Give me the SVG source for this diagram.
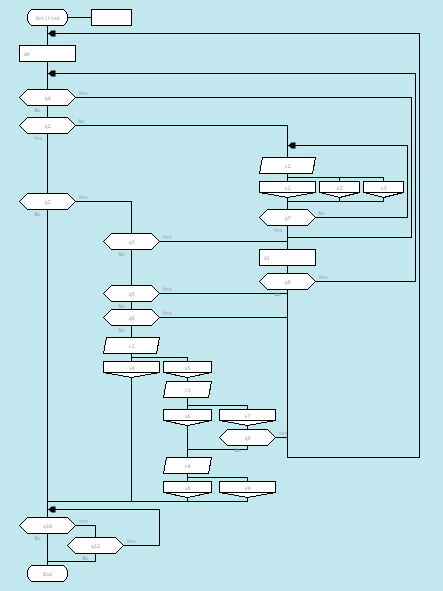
<svg xmlns="http://www.w3.org/2000/svg" xmlns:xlink="http://www.w3.org/1999/xlink" width="443" height="591" viewBox="0 0 443 591">
<style>
.n{fill:#fff;stroke:#000;stroke-width:1;shape-rendering:crispEdges}
.c{fill:none;stroke:#000;stroke-width:1;shape-rendering:crispEdges}
.t{font-family:"DejaVu Sans Mono","Liberation Mono",monospace;font-size:5px;fill:#9a9a9a;text-anchor:middle}
.s{font-family:"DejaVu Sans Mono","Liberation Mono",monospace;font-size:5px;fill:#8a9aa0}
.l{text-anchor:start}
</style>
<defs>
<path id="arr" d="M0,0 L3,-3 L7,-3 L7,3 L3,3 Z" fill="#000"/>
</defs>
<rect width="443" height="591" fill="#c2e7ef"/>
<g transform="translate(0.5,0.5)">
<g id="connectors">
<path class="c" d="M67,17 H91 M47,25 V45 M47,61 V89 M75,97 H411 V237 H287 M47,105 V117 M75,125 H287 V157 M47,133 V193 M75,201 H131 V233 M47,209 V517"/>
<path class="c" d="M287,173 V181 M287,177 H383 V181 M339,177 V181 M287,197 V209 M339,197 V201 M383,197 V201 M287,201 H383 M315,217 H407 V145 H287 M287,225 V249 M159,241 H287 M287,265 V273 M315,281 H415 V73 H47 M287,289 V457 H419 V33 H47"/>
<path class="c" d="M131,249 V285 M159,293 H287 M131,301 V309 M159,317 H287 M131,325 V337 M131,353 V361 M131,357 H187 V361 M131,377 V501 M187,377 V381 M187,397 V409 M187,405 H247 V409 M247,425 V429 M275,437 H287 M247,445 V449 H187 M187,425 V457 M187,473 V481 M187,477 H247 V481 M187,497 V501 M247,497 V501 M47,501 H247"/>
<path class="c" d="M47,509 H159 V545 H123 M75,525 H95 V537 M95,553 V561 H47 M47,533 V565"/>
<use xlink:href="#arr" href="#arr" x="48" y="33"/>
<use xlink:href="#arr" href="#arr" x="48" y="73"/>
<use xlink:href="#arr" href="#arr" x="288" y="145"/>
<use xlink:href="#arr" href="#arr" x="48" y="509"/>
</g>
<g id="start"><rect class="n" x="27" y="9" width="40" height="16" rx="6" ry="7"/><text class="t" x="47" y="19">Untitled</text></g>
<g id="blank"><rect class="n" x="91" y="9" width="40" height="16"/></g>
<g id="d0"><rect class="n" x="19" y="45" width="56" height="16"/><text class="t l" x="23" y="55">d0</text></g>
<g id="q4"><polygon class="n" points="19,97 27,89 67,89 75,97 67,105 27,105"/><text class="t" x="47" y="99">q4</text><text class="s" x="78" y="94">Yes</text><text class="s" x="34" y="111">No</text></g>
<g id="q1"><polygon class="n" points="19,125 27,117 67,117 75,125 67,133 27,133"/><text class="t" x="47" y="127">q1</text><text class="s" x="78" y="122">No</text><text class="s" x="33" y="139">Yes</text></g>
<g id="q2"><polygon class="n" points="19,201 27,193 67,193 75,201 67,209 27,209"/><text class="t" x="47" y="203">q2</text><text class="s" x="78" y="198">Yes</text><text class="s" x="34" y="215">No</text></g>
<g id="c1"><polygon class="n" points="262,157 315,157 312,173 259,173"/><text class="t" x="287" y="167">c1</text></g>
<g id="v1"><path class="n" d="M259,181 H315 V192 L287,197 L259,192 Z M259,192 H315"/><text class="t" x="287" y="189">v1</text></g>
<g id="v2"><path class="n" d="M319,181 H359 V192 L339,197 L319,192 Z M319,192 H359"/><text class="t" x="339" y="189">v2</text></g>
<g id="v3"><path class="n" d="M363,181 H403 V192 L383,197 L363,192 Z M363,192 H403"/><text class="t" x="383" y="189">v3</text></g>
<g id="q7"><polygon class="n" points="259,217 267,209 307,209 315,217 307,225 267,225"/><text class="t" x="287" y="219">q7</text><text class="s" x="318" y="214">No</text><text class="s" x="273" y="231">Yes</text></g>
<g id="q3"><polygon class="n" points="103,241 111,233 151,233 159,241 151,249 111,249"/><text class="t" x="131" y="243">q3</text><text class="s" x="162" y="238">Yes</text><text class="s" x="118" y="255">No</text></g>
<g id="d1"><rect class="n" x="259" y="249" width="56" height="16"/><text class="t l" x="263" y="259">d1</text></g>
<g id="q8"><polygon class="n" points="259,281 267,273 307,273 315,281 307,289 267,289"/><text class="t" x="287" y="283">q8</text><text class="s" x="318" y="278">Yes</text><text class="s" x="274" y="295">No</text></g>
<g id="q5"><polygon class="n" points="103,293 111,285 151,285 159,293 151,301 111,301"/><text class="t" x="131" y="295">q5</text><text class="s" x="162" y="290">Yes</text><text class="s" x="118" y="307">No</text></g>
<g id="q6"><polygon class="n" points="103,317 111,309 151,309 159,317 151,325 111,325"/><text class="t" x="131" y="319">q6</text><text class="s" x="162" y="314">Yes</text><text class="s" x="118" y="331">No</text></g>
<g id="c2"><polygon class="n" points="106,337 159,337 156,353 103,353"/><text class="t" x="131" y="347">c2</text></g>
<g id="v4"><path class="n" d="M103,361 H159 V372 L131,377 L103,372 Z M103,372 H159"/><text class="t" x="131" y="369">v4</text></g>
<g id="v5"><path class="n" d="M163,361 H211 V372 L187,377 L163,372 Z M163,372 H211"/><text class="t" x="187" y="369">v5</text></g>
<g id="c3"><polygon class="n" points="166,381 211,381 208,397 163,397"/><text class="t" x="187" y="391">c3</text></g>
<g id="v6"><path class="n" d="M163,409 H211 V420 L187,425 L163,420 Z M163,420 H211"/><text class="t" x="187" y="417">v6</text></g>
<g id="v7"><path class="n" d="M219,409 H275 V420 L247,425 L219,420 Z M219,420 H275"/><text class="t" x="247" y="417">v7</text></g>
<g id="q9"><polygon class="n" points="219,437 227,429 267,429 275,437 267,445 227,445"/><text class="t" x="247" y="439">q9</text><text class="s" x="278" y="434">Yes</text><text class="s" x="234" y="451">No</text></g>
<g id="c4"><polygon class="n" points="166,457 211,457 208,473 163,473"/><text class="t" x="187" y="467">c4</text></g>
<g id="v8"><path class="n" d="M163,481 H211 V492 L187,497 L163,492 Z M163,492 H211"/><text class="t" x="187" y="489">v8</text></g>
<g id="v9"><path class="n" d="M219,481 H275 V492 L247,497 L219,492 Z M219,492 H275"/><text class="t" x="247" y="489">v9</text></g>
<g id="q10"><polygon class="n" points="19,525 27,517 67,517 75,525 67,533 27,533"/><text class="t" x="47" y="527">q10</text><text class="s" x="78" y="522">Yes</text><text class="s" x="34" y="539">No</text></g>
<g id="q11"><polygon class="n" points="67,545 75,537 115,537 123,545 115,553 75,553"/><text class="t" x="95" y="547">q11</text><text class="s" x="126" y="542">Yes</text><text class="s" x="82" y="559">No</text></g>
<g id="end"><rect class="n" x="27" y="565" width="40" height="16" rx="6" ry="7"/><text class="t" x="47" y="575">End</text></g>
</g>
</svg>
